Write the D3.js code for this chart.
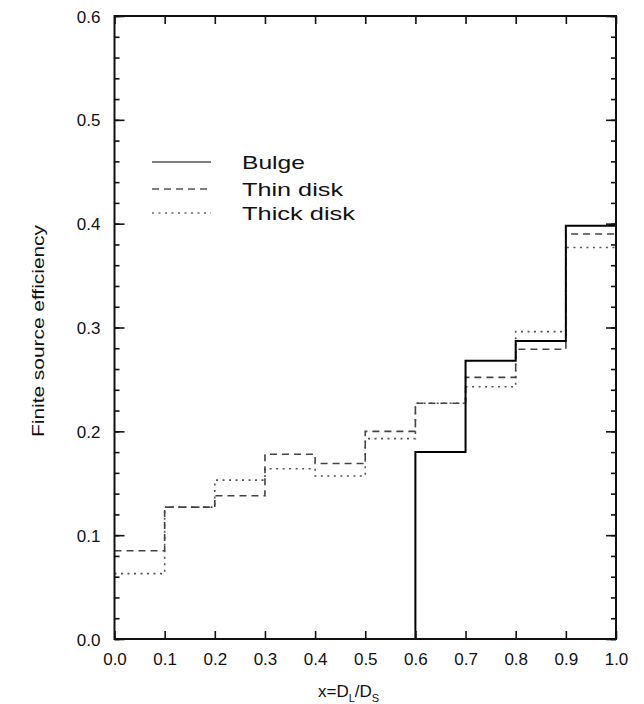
<!DOCTYPE html>
<html><head><meta charset="utf-8">
<script src="https://cdn.jsdelivr.net/npm/d3@7"></script>
<style>body{margin:0;background:#fff}svg{display:block}</style>
</head><body>
<svg id="c" width="644" height="704"></svg>
<script>
// Data
const binEdges = [0.0,0.1,0.2,0.3,0.4,0.5,0.6,0.7,0.8,0.9,1.0];
const bulge = [0,0,0,0,0,0,0.180,0.268,0.287,0.398];
const thinDisk = [0.085,0.127,0.138,0.178,0.169,0.200,0.227,0.252,0.279,0.390];
const thickDisk = [0.063,0.127,0.153,0.164,0.157,0.193,0.227,0.243,0.296,0.377];
const seriesNames = ["Bulge","Thin disk","Thick disk"];
const xTicks = [0.0,0.1,0.2,0.3,0.4,0.5,0.6,0.7,0.8,0.9,1.0];
const yTicks = [0.0,0.1,0.2,0.3,0.4,0.5,0.6];
const yMinorTicks = d3.range(0,0.6001,0.02);

const svg = d3.select("#c");
const L=114.5, R=616, T=16, B=639;
const x = d3.scaleLinear().domain([0,1]).range([L,R]);
const y = d3.scaleLinear().domain([0,0.6]).range([B,T]);

const font = "'Liberation Sans', Arial, sans-serif";

function stepPts(vals){
  const p = vals.map((v,i)=>[binEdges[i],v]);
  p.push([binEdges[binEdges.length-1], vals[vals.length-1]]);
  return p;
}
const line = d3.line().x(d=>x(d[0])).y(d=>y(d[1])).curve(d3.curveStepAfter);

const styles = [
  {stroke:"#000", w:2, dash:null, legStroke:"#555"},
  {stroke:"#444", w:1.6, dash:"7,5", legStroke:"#555"},
  {stroke:"#555", w:1.6, dash:"2,4.5", legStroke:"#666"}
];
const allSeries = [bulge, thinDisk, thickDisk];

// draw dotted and dashed first, solid on top
[2,1,0].forEach(i=>{
  svg.append("path").attr("d", line(stepPts(allSeries[i])))
    .attr("fill","none").attr("stroke",styles[i].stroke)
    .attr("stroke-width",styles[i].w)
    .attr("stroke-dasharray",styles[i].dash);
});

// axes (ticks inward)
const gB = svg.append("g").attr("transform",`translate(0,${B})`)
  .call(d3.axisBottom(x).tickValues(xTicks).tickSize(-8).tickPadding(14).tickFormat(d3.format(".1f")));
const gT = svg.append("g").attr("transform",`translate(0,${T})`)
  .call(d3.axisTop(x).tickValues(xTicks).tickSize(-8).tickFormat(""));
const gL = svg.append("g").attr("transform",`translate(${L},0)`)
  .call(d3.axisLeft(y).tickValues(yTicks).tickSize(-10).tickPadding(14).tickFormat(d3.format(".1f")));
const gR = svg.append("g").attr("transform",`translate(${R},0)`)
  .call(d3.axisRight(y).tickValues(yTicks).tickSize(-10).tickFormat(""));
const gLm = svg.append("g").attr("transform",`translate(${L},0)`)
  .call(d3.axisLeft(y).tickValues(yMinorTicks).tickSize(-5).tickFormat(""));
const gRm = svg.append("g").attr("transform",`translate(${R},0)`)
  .call(d3.axisRight(y).tickValues(yMinorTicks).tickSize(-5).tickFormat(""));
[gB,gT,gL,gR,gLm,gRm].forEach(g=>{
  g.select(".domain").remove();
  g.selectAll(".tick line").attr("stroke","#111").attr("stroke-width",1.6);
  g.selectAll("text").attr("font-family",font).attr("font-size",17).attr("fill","#111");
});
gL.selectAll("text").attr("dy","0.36em");

// frame
svg.append("rect").attr("x",L).attr("y",T).attr("width",R-L).attr("height",B-T)
  .attr("fill","none").attr("stroke","#111").attr("stroke-width",2);

// legend
const legY = [162,189,213];
const legW = [63,101,113];
seriesNames.forEach((n,i)=>{
  svg.append("line").attr("x1",152).attr("x2",211).attr("y1",legY[i]).attr("y2",legY[i])
    .attr("stroke",styles[i].legStroke).attr("stroke-width",1.6)
    .attr("stroke-dasharray",styles[i].dash);
  svg.append("text").attr("x",242).attr("y",legY[i]+7).text(n)
    .attr("font-family",font).attr("font-size",19).attr("fill","#111")
    .attr("textLength",legW[i]).attr("lengthAdjust","spacingAndGlyphs");
});

// axis titles
svg.append("text").attr("transform","translate(44,331) rotate(-90)")
  .attr("text-anchor","middle").attr("font-family",font).attr("font-size",17).attr("fill","#111")
  .attr("textLength",212).attr("lengthAdjust","spacingAndGlyphs")
  .text("Finite source efficiency");
const xt = svg.append("text").attr("x",318).attr("y",697)
  .attr("font-family",font).attr("font-size",17).attr("fill","#111");
xt.append("tspan").text("x=D");
xt.append("tspan").text("L").attr("font-size",11).attr("dy",5);
xt.append("tspan").text("/D").attr("dy",-5);
xt.append("tspan").text("S").attr("font-size",11).attr("dy",5);
</script>
</body></html>
